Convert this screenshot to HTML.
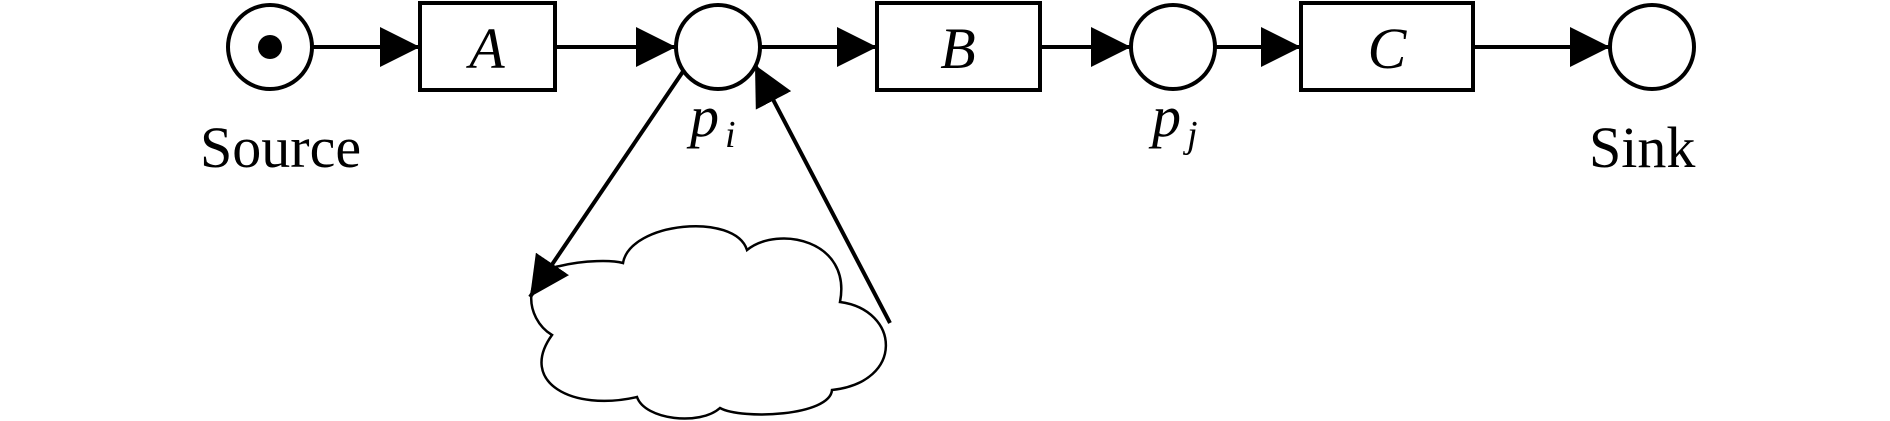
<!DOCTYPE html>
<html><head><meta charset="utf-8"><style>
html,body{margin:0;padding:0;background:#fff;width:1890px;height:421px;overflow:hidden}
svg text{font-family:"Liberation Serif",serif;fill:#000}
</style></head><body>
<svg width="1890" height="421" viewBox="0 0 1890 421" xmlns="http://www.w3.org/2000/svg">
<defs>
<marker id="ah" markerWidth="40" markerHeight="40" refX="40" refY="20" orient="auto" markerUnits="userSpaceOnUse">
<path d="M0,0 L40,20 L0,40 Z" fill="#000"/>
</marker>
</defs>
<g stroke="#000" stroke-width="4" fill="none">
<circle cx="270" cy="47" r="42"/>
<circle cx="718" cy="47" r="42"/>
<circle cx="1173" cy="47" r="42"/>
<circle cx="1652" cy="47" r="42"/>
<rect x="420" y="3" width="135" height="87"/>
<rect x="877" y="3" width="163" height="87"/>
<rect x="1301" y="3" width="172" height="87"/>
<line x1="313" y1="47" x2="420" y2="47" marker-end="url(#ah)"/>
<line x1="555" y1="47" x2="676" y2="47" marker-end="url(#ah)"/>
<line x1="760" y1="47" x2="877" y2="47" marker-end="url(#ah)"/>
<line x1="1040" y1="47" x2="1131" y2="47" marker-end="url(#ah)"/>
<line x1="1215" y1="47" x2="1301" y2="47" marker-end="url(#ah)"/>
<line x1="1473" y1="47" x2="1610" y2="47" marker-end="url(#ah)"/>
</g>
<circle cx="270" cy="47" r="12" fill="#000"/>
<path d="M552,335 C524,318 522,272 560,266 C585,260 612,260 623,263 C630,222 735,212 747,250 C778,225 852,240 840,302 C900,310 905,382 832,390 C830,416 742,420 720,408 C700,426 645,420 637,397 C572,412 518,382 552,335 Z" fill="#fff" stroke="#000" stroke-width="2.5"/>
<g stroke="#000" stroke-width="4" fill="none">
<line x1="684" y1="70" x2="530" y2="297" marker-end="url(#ah)"/>
<line x1="890" y1="323" x2="755" y2="65" marker-end="url(#ah)"/>
</g>
<text x="487" y="68" font-size="58" font-style="italic" text-anchor="middle">A</text>
<text x="958" y="68" font-size="58" font-style="italic" text-anchor="middle">B</text>
<text x="1387" y="68" font-size="58" font-style="italic" text-anchor="middle">C</text>
<text x="200" y="167" font-size="58">Source</text>
<text x="1589" y="167" font-size="58">Sink</text>
<text x="690" y="136" font-size="58" font-style="italic">p</text>
<text x="725" y="147" font-size="38" font-style="italic">i</text>
<text x="1152" y="136" font-size="58" font-style="italic">p</text>
<text x="1187" y="147" font-size="38" font-style="italic">j</text>
</svg>
</body></html>
